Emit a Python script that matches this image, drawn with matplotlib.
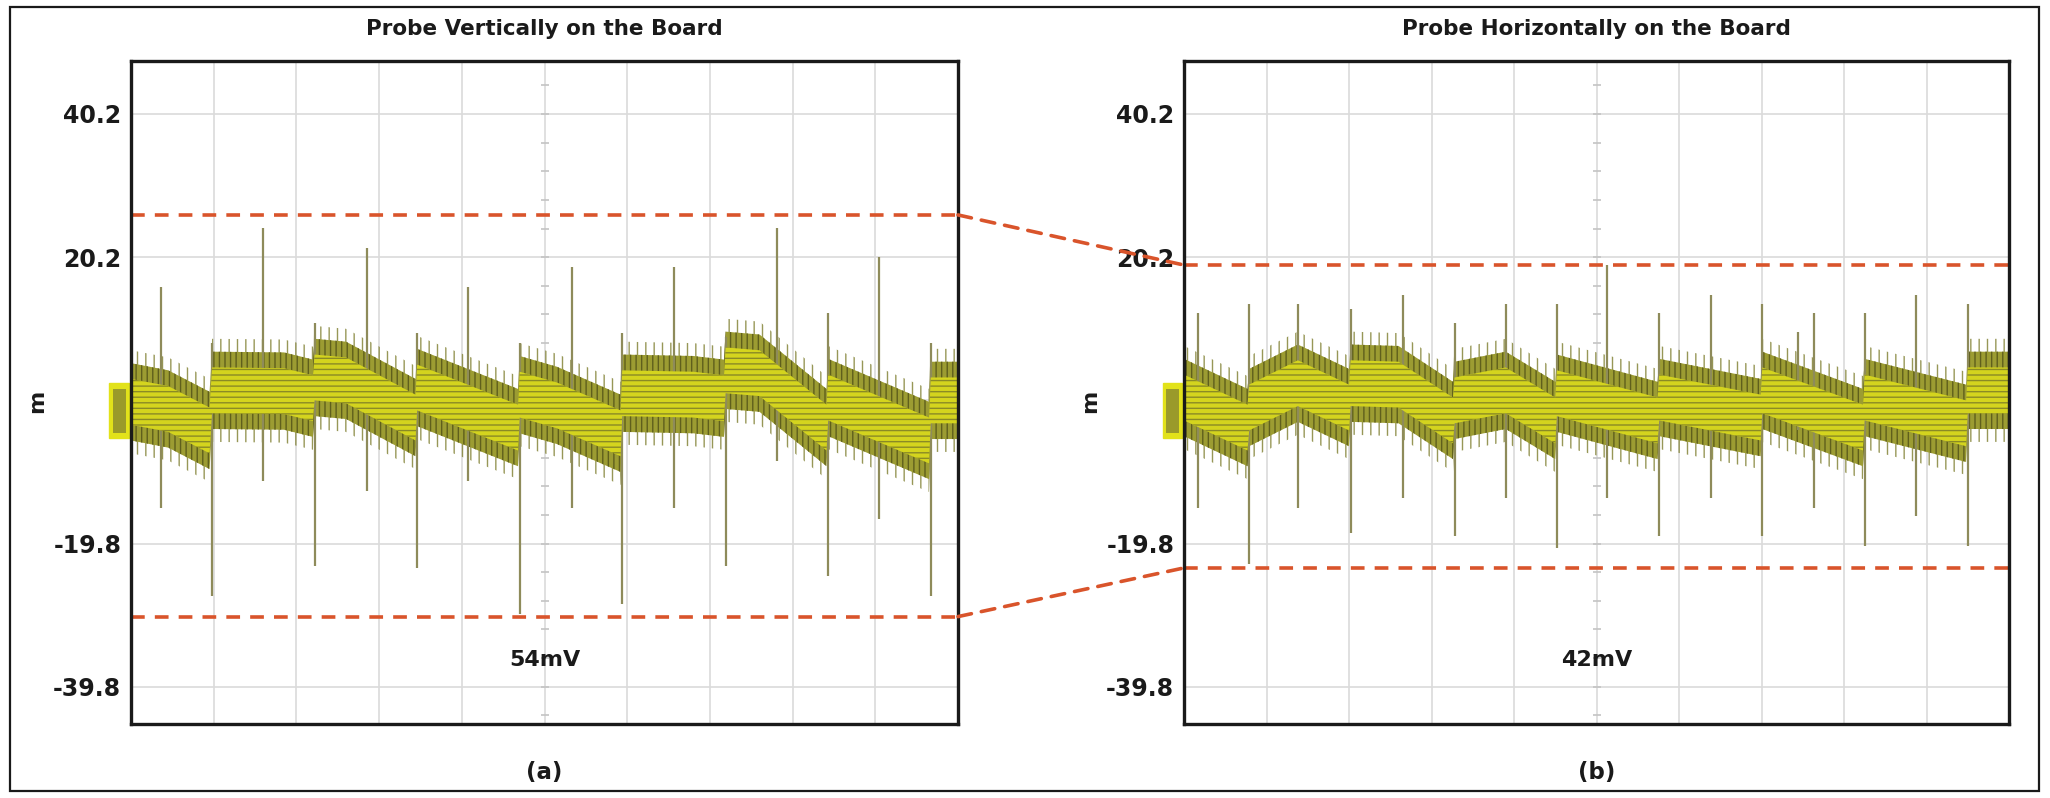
import matplotlib
matplotlib.use('Agg')
import matplotlib.pyplot as plt
import matplotlib.transforms as mtransforms
from matplotlib.patches import Rectangle, ConnectionPatch

plt.rcParams['font.family'] = ['DejaVu Sans']
plt.rcParams['hatch.linewidth'] = 1.0

# ---- data (x in divisions, y in mV) ----
titles = ['Probe Vertically on the Board', 'Probe Horizontally on the Board']
panel_tags = ['(a)', '(b)']
pp_labels = ['54mV', '42mV']
ytick_vals = [-39.8, -19.8, 0.2, 20.2, 40.2]
ytick_text = ['-39.8', '-19.8', '', '20.2', '40.2']

# centre of the noise band (sawtooth: steps up at every large negative spike)
left_band_x = [0.00, 0.45, 0.95, 0.98, 1.85, 2.20, 2.22, 2.60, 3.44, 3.46, 4.68, 4.70, 5.15,
               5.92, 5.94, 6.80, 7.17, 7.19, 7.60, 8.41, 8.43, 9.65, 9.67, 10.0]
left_band_mid = [0.0, -1.0, -4.0, 1.6, 1.5, 0.5, 3.4, 3.0, -2.2, 2.0, -3.6, 1.0, -0.5,
                 -4.4, 1.2, 1.0, 0.5, 4.4, 4.0, -3.6, 0.6, -5.4, 0.2, 0.2]
right_band_x = [0.00, 0.77, 0.79, 1.38, 2.00, 2.02, 2.60, 3.26, 3.28, 3.90, 4.50, 4.52, 5.74,
                5.76, 6.99, 7.01, 8.23, 8.25, 9.48, 9.50, 10.0]
right_band_mid = [0.6, -3.6, -0.8, 2.6, -0.8, 2.6, 2.4, -2.6, 0.2, 1.6, -2.6, 1.2, -2.6,
                  0.6, -2.2, 1.6, -3.6, 0.6, -3.0, 1.6, 1.6]

# switching spikes: position, positive tip, negative tip
left_spike_x = [0.36, 0.98, 1.60, 2.22, 2.85, 3.46, 4.08, 4.70, 5.33, 5.94, 6.56, 7.19, 7.81, 8.43, 9.04, 9.67]
left_spike_top = [16.1, 8.2, 24.3, 11.0, 21.5, 9.6, 16.1, 8.2, 18.8, 9.6, 18.8, 9.0, 24.3, 12.4, 20.2, 8.2]
left_spike_bot = [-14.9, -27.1, -11.0, -22.9, -12.4, -23.2, -11.0, -29.6, -14.9, -28.2, -14.9, -22.9,
                  -8.2, -24.3, -16.3, -27.1]
right_spike_x = [0.17, 0.79, 1.38, 2.02, 2.65, 3.28, 3.90, 4.52, 5.13, 5.76, 6.39, 7.01, 7.44, 7.64,
                 8.25, 8.87, 9.50]
right_spike_top = [12.4, 13.6, 13.6, 12.9, 14.9, 11.0, 13.6, 13.6, 19.1, 12.4, 14.9, 13.6, 9.7, 12.4,
                   12.4, 14.9, 13.6]
right_spike_bot = [-14.8, -22.6, -14.8, -18.3, -13.4, -18.7, -13.5, -20.4, -13.4, -18.7, -13.4, -18.7,
                   -4.0, -14.8, -20.1, -16.0, -20.1]

# peak-to-peak cursor levels
left_limits = [26.1, -30.0]
right_limits = [19.1, -23.2]

CORE = 3.2
FRINGE_IN = 5.4
FRINGE_OUT = 7.2
RED = '#d9542b'
INK = '#1a1a1a'

fig = plt.figure(figsize=(20.5, 7.98), dpi=100)
ax_l = fig.add_axes([131 / 2050, 1 - 724 / 798, 827 / 2050, 663 / 798])
ax_r = fig.add_axes([1184 / 2050, 1 - 724 / 798, 825 / 2050, 663 / 798])

panels = [
    (ax_l, left_band_x, left_band_mid, left_spike_x, left_spike_top, left_spike_bot, left_limits),
    (ax_r, right_band_x, right_band_mid, right_spike_x, right_spike_top, right_spike_bot, right_limits),
]

for i, (ax, bx, bm, sx, st, sb, lim) in enumerate(panels):
    ax.set_xlim(0, 10)
    ax.set_ylim(-45.0, 47.6)
    ax.set_xticks(range(0, 11))
    ax.set_yticks(ytick_vals)
    ax.set_yticklabels(ytick_text, fontsize=17, fontweight='bold', color=INK)
    ax.tick_params(axis='x', length=0, labelbottom=False)
    ax.tick_params(axis='y', length=0, pad=7)
    ax.grid(True, color='#dadada', linewidth=1.2)
    ax.set_axisbelow(True)
    for sp in ax.spines.values():
        sp.set_linewidth(2.4)
        sp.set_color(INK)
        sp.set_zorder(6)

    # small division marks on the centre graticule line
    ax.plot([5] * 23, [0.2 + 4 * k for k in range(-11, 12)], ls='none', marker='_',
            ms=6, mew=1.2, color='#c4c4c4', zorder=1)

    # noise band: hairy outer edge, dark olive fringe, bright striped core
    ax.fill_between(bx, [m - FRINGE_OUT for m in bm], [m + FRINGE_OUT for m in bm],
                    facecolor='none', edgecolor='#85853a', hatch='||', linewidth=0,
                    alpha=0.85, zorder=2)
    ax.fill_between(bx, [m - FRINGE_IN for m in bm], [m + FRINGE_IN for m in bm],
                    facecolor='#9c9c32', edgecolor='#5f5f1c', hatch='|||', linewidth=0,
                    zorder=2)
    ax.vlines(sx, sb, st, color='#8e8b5a', linewidth=1.6, zorder=3)
    ax.fill_between(bx, [m - CORE for m in bm], [m + CORE for m in bm],
                    facecolor='#d4d41e', edgecolor='#8a8a26', hatch='---', linewidth=0, zorder=4)

    for y in lim:
        ax.axhline(y, color=RED, linewidth=2.6, dashes=(3.8, 2.8), zorder=5)

    ax.set_title(titles[i], pad=19, fontsize=15.5, fontweight='bold', color=INK)
    ax.text(5, -36.0, pp_labels[i], ha='center', va='center', fontsize=16,
            fontweight='bold', color=INK)
    ax.text(0.5, 1 - 772 / 798, panel_tags[i],
            transform=mtransforms.blended_transform_factory(ax.transAxes, fig.transFigure),
            ha='center', va='center', fontsize=16.5, fontweight='bold', color=INK)

    # channel ground marker and unit label
    trans = mtransforms.blended_transform_factory(ax.transAxes, ax.transData)
    ax.add_patch(Rectangle((-0.026, -5.1), 0.023, 7.7, transform=trans, clip_on=False,
                           facecolor='#e2e21a', edgecolor='#e2e21a', linewidth=1, zorder=5))
    ax.add_patch(Rectangle((-0.022, -4.3), 0.016, 6.1, transform=trans, clip_on=False,
                           facecolor='#9a9a2a', edgecolor='none', zorder=5))
    ax.text(-0.114, 0.0, 'm', transform=trans, rotation=90, ha='center', va='center',
            fontsize=16, fontweight='bold', color=INK)

# dashed lines linking the cursor levels of the two captures
for y_l, y_r in zip(left_limits, right_limits):
    con = ConnectionPatch(xyA=(10, y_l), coordsA='data', axesA=ax_l,
                          xyB=(0, y_r), coordsB='data', axesB=ax_r,
                          color=RED, linewidth=2.6, linestyle=(0, (3.8, 2.8)), zorder=5)
    fig.add_artist(con)

# outer frame
fig.add_artist(Rectangle((10 / 2050, 7 / 798), 2029 / 2050, 784 / 798, transform=fig.transFigure,
                         fill=False, edgecolor=INK, linewidth=1.6))

fig.savefig('out.png', dpi=100)
